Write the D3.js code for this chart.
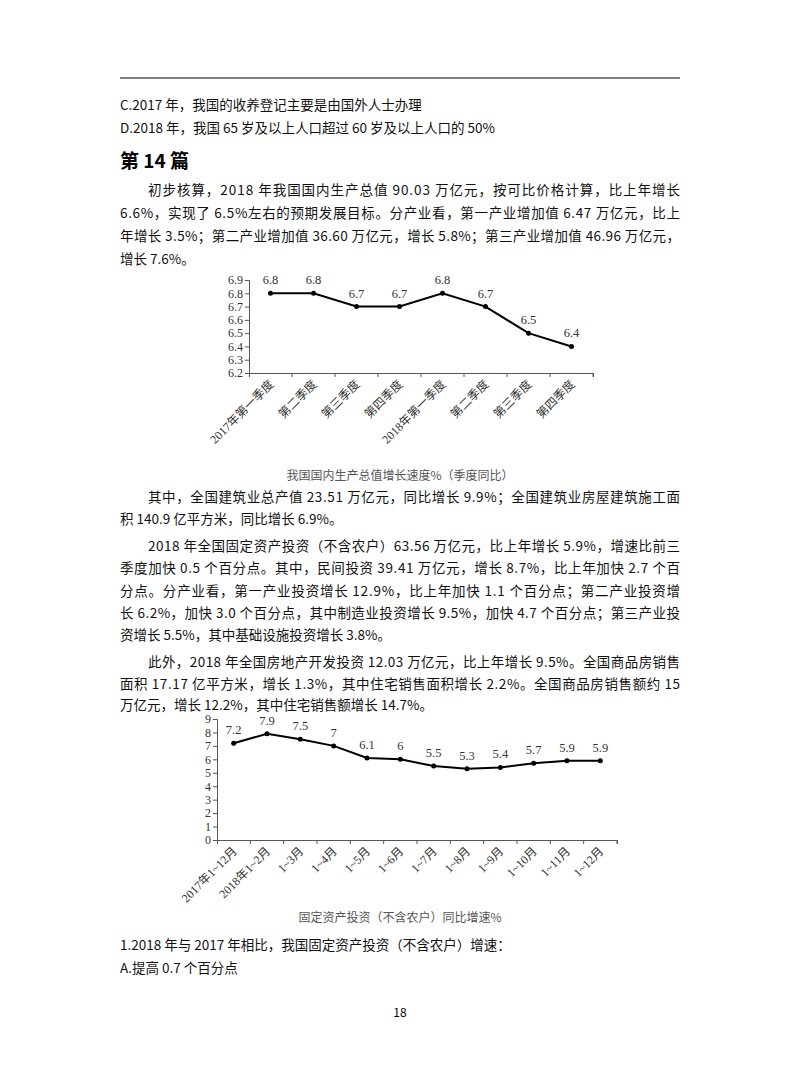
<!DOCTYPE html>
<html><head><meta charset="utf-8">
<script src="https://cdn.jsdelivr.net/npm/d3@7"></script>
<style>body{margin:0;background:#fff}svg{display:block}</style>
</head><body><svg id="page" width="800" height="1086"></svg>
<script>
// chart 1 data
const gdpQuarters = ["2017年第一季度","第二季度","第三季度","第四季度","2018年第一季度","第二季度","第三季度","第四季度"];
const gdpGrowth = [6.8, 6.8, 6.7, 6.7, 6.8, 6.7, 6.5, 6.4];
const gdpTicks = [6.2, 6.3, 6.4, 6.5, 6.6, 6.7, 6.8, 6.9];
// chart 2 data
const invMonths = ["2017年1~12月","2018年1~2月","1~3月","1~4月","1~5月","1~6月","1~7月","1~8月","1~9月","1~10月","1~11月","1~12月"];
const invGrowth = [7.2, 7.9, 7.5, 7, 6.1, 6, 5.5, 5.3, 5.4, 5.7, 5.9, 5.9];
const invTicks = [0,1,2,3,4,5,6,7,8,9];

const svg = d3.select("#page");
const txtFont = "'Noto Sans CJK SC', 'DejaVu Sans', sans-serif";
const numFont = "'Liberation Serif', 'Noto Sans CJK SC', serif";

svg.append("line").attr("x1",120).attr("x2",680).attr("y1",78).attr("y2",78).attr("stroke","#000").attr("stroke-width",1);

// text lines: [x, y, text, justify]
const lines = [
  [120,110,"C.2017 年，我国的收养登记主要是由国外人士办理",false],
  [120,133,"D.2018 年，我国 65 岁及以上人口超过 60 岁及以上人口的 50%",false],
  [148,195,"初步核算，2018 年我国国内生产总值 90.03 万亿元，按可比价格计算，比上年增长",true],
  [120,218,"6.6%，实现了 6.5%左右的预期发展目标。分产业看，第一产业增加值 6.47 万亿元，比上",true],
  [120,241,"年增长 3.5%；第二产业增加值 36.60 万亿元，增长 5.8%；第三产业增加值 46.96 万亿元，",true],
  [120,264,"增长 7.6%。",false],
  [148,502,"其中，全国建筑业总产值 23.51 万亿元，同比增长 9.9%；全国建筑业房屋建筑施工面",true],
  [120,524,"积 140.9 亿平方米，同比增长 6.9%。",false],
  [148,551,"2018 年全国固定资产投资（不含农户）63.56 万亿元，比上年增长 5.9%，增速比前三",true],
  [120,573,"季度加快 0.5 个百分点。其中，民间投资 39.41 万亿元，增长 8.7%，比上年加快 2.7 个百",true],
  [120,596,"分点。分产业看，第一产业投资增长 12.9%，比上年加快 1.1 个百分点；第二产业投资增",true],
  [120,618,"长 6.2%，加快 3.0 个百分点，其中制造业投资增长 9.5%，加快 4.7 个百分点；第三产业投",true],
  [120,640,"资增长 5.5%，其中基础设施投资增长 3.8%。",false],
  [148,667,"此外，2018 年全国房地产开发投资 12.03 万亿元，比上年增长 9.5%。全国商品房销售",true],
  [120,689,"面积 17.17 亿平方米，增长 1.3%，其中住宅销售面积增长 2.2%。全国商品房销售额约 15",true],
  [120,710,"万亿元，增长 12.2%，其中住宅销售额增长 14.7%。",false],
  [120,950,"1.2018 年与 2017 年相比，我国固定资产投资（不含农户）增速：",false],
  [120,973,"A.提高 0.7 个百分点",false]
];
lines.forEach(([x,y,t,j]) => {
  const el = svg.append("text").attr("x",x).attr("y",y).attr("font-family",txtFont)
    .attr("font-size",13.5).attr("fill","#111").text(t);
  if (j) el.attr("textLength",680-x).attr("lengthAdjust","spacing");
});
svg.append("text").attr("x",120).attr("y",168).attr("font-family",txtFont).attr("font-size",19)
  .attr("font-weight","bold").text("第 14 篇");
svg.append("text").attr("x",400).attr("y",1017).attr("text-anchor","middle").attr("font-family",txtFont)
  .attr("font-size",12).text("18");

function drawChart(cfg) {
  const g = svg.append("g");
  const idx = d3.range(cfg.cats.length);
  const x = d3.scaleBand().domain(idx).range([cfg.left, cfg.right]);
  const y = d3.scaleLinear().domain(cfg.domain).range([cfg.bottom, cfg.top]);
  const ya = g.append("g").attr("transform",`translate(${cfg.left},0)`)
    .call(d3.axisLeft(y).tickValues(cfg.ticks).tickSize(4).tickFormat(d3.format(cfg.fmt)));
  const xa = g.append("g").attr("transform",`translate(0,${cfg.bottom})`)
    .call(d3.axisBottom(x).tickSize(4).tickFormat(""));
  // ticks at band boundaries
  xa.selectAll(".tick").attr("transform", d => `translate(${x(d)+x.bandwidth()},0)`);
  [ya,xa].forEach(a => {
    a.select(".domain").attr("stroke","#555");
    a.selectAll("line").attr("stroke","#555");
    a.selectAll("text").attr("font-family",numFont).attr("font-size",12).attr("fill","#333");
  });
  ya.selectAll("text").attr("x",-6);
  const cx = i => x(i) + x.bandwidth()/2;
  cfg.cats.forEach((c,i) => {
    g.append("text").attr("transform",`translate(${cx(i)+4},${cfg.bottom+12}) rotate(-45)`)
      .attr("text-anchor","end").attr("font-family",numFont).attr("font-size",12).attr("fill","#333").text(c);
  });
  g.append("path").datum(cfg.vals)
    .attr("d", d3.line().x((d,i)=>cx(i)).y(d=>y(d)))
    .attr("fill","none").attr("stroke","#000").attr("stroke-width",2);
  g.selectAll(".pt").data(cfg.vals).join("circle")
    .attr("cx",(d,i)=>cx(i)).attr("cy",d=>y(d)).attr("r",2.5).attr("fill","#000");
  g.selectAll(".lbl").data(cfg.vals).join("text")
    .attr("x",(d,i)=>cx(i)).attr("y",d=>y(d)-9).attr("text-anchor","middle")
    .attr("font-family",numFont).attr("font-size",12.5).attr("fill","#333").text(d=>d);
  g.append("text").attr("x",cfg.capX).attr("y",cfg.capY).attr("text-anchor","middle")
    .attr("font-family",txtFont).attr("font-size",12).attr("fill","#555").text(cfg.caption);
}

drawChart({cats:gdpQuarters, vals:gdpGrowth, ticks:gdpTicks, domain:[6.2,6.9], fmt:".1f",
  left:249, right:593, top:280, bottom:373, capX:400, capY:480, caption:"我国国内生产总值增长速度%（季度同比）"});
drawChart({cats:invMonths, vals:invGrowth, ticks:invTicks, domain:[0,9], fmt:"d",
  left:217, right:617, top:719, bottom:840, capX:400, capY:922, caption:"固定资产投资（不含农户）同比增速%"});
</script></body></html>
